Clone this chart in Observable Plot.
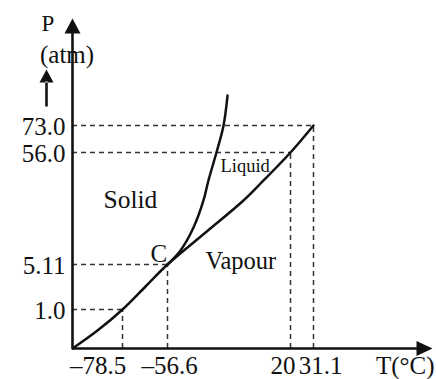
<!DOCTYPE html>
<html><head><meta charset="utf-8">
<script src="https://cdn.jsdelivr.net/npm/d3@7"></script>
<script src="https://cdn.jsdelivr.net/npm/@observablehq/plot@0.6"></script>
<style>body{margin:0;background:#fff} svg{display:block}</style>
</head><body><div id="chart"></div>
<script>
// Ticks
const tickT = [-78.5, -56.6, 20, 31.1];
const tickTLabels = ["–78.5", "–56.6", "20", "31.1"];
const tickP = [1.0, 5.11, 56.0, 73.0];
const tickPLabels = ["1.0", "5.11", "56.0", "73.0"];
// Key points (T, P): 1 atm sublimation, triple point C, 20°C, critical point
const keyT = [-78.5, -56.6, 20, 31.1];
const keyP = [1.0, 5.11, 56.0, 73.0];
// Sublimation + vaporization curve (solid/vapour then liquid/vapour)
const vapourT = [-103, -90.75, -78.5, -67.3, -56.6, -32.9, -9.3, 3.2, 20, 31.1];
const vapourP = [0, 0.46, 1.0, 3.1, 5.11, 19.65, 34.2, 43.3, 56.0, 73.0];
// Melting curve (solid/liquid)
const meltT = [-56.6, -48.5, -40.4, -34.2, -31.1, -26.1, -21.7, -19.2];
const meltP = [5.11, 11.47, 21.9, 34.2, 43.3, 56.0, 73.0, 86.2];
// Axis extent
const Tmin = -103, Tmax = 89, Pmax = 120;

const font = "'Liberation Serif', 'Times New Roman', serif";
const vapour = vapourT.map((t, i) => ({T: t, P: vapourP[i]}));
const melt = meltT.map((t, i) => ({T: t, P: meltP[i]}));
const keys = keyT.map((t, i) => ({T: t, P: keyP[i]}));

const upHead = {draw(c) { c.moveTo(0, 0); c.lineTo(-8, 15); c.lineTo(8, 15); c.closePath(); }};
const rightHead = {draw(c) { c.moveTo(0, 0); c.lineTo(-16, -7.5); c.lineTo(-16, 7.5); c.closePath(); }};
const smallArrow = {draw(c) {
  c.moveTo(0, 0); c.lineTo(-7, 13); c.lineTo(7, 13); c.closePath();
  c.moveTo(-1.3, 12); c.lineTo(1.3, 12); c.lineTo(1.3, 37); c.lineTo(-1.3, 37); c.closePath();
}};
const xLabelDx = [-24.5, 2, -7.5, 7];

const chart = Plot.plot({
  width: 436, height: 379,
  margin: 0,
  style: {fontFamily: font, background: "#fff", color: "#111"},
  x: {type: "linear", domain: [Tmin, -78.5, -56.6, 20, 31.1, Tmax], range: [72, 122, 167, 290, 313, 432], axis: null},
  y: {type: "linear", domain: [0, 1.0, 5.11, 56.0, 73.0, Pmax], range: [348, 309, 264, 152, 125, 18], axis: null},
  marks: [
    // dashed guides
    Plot.ruleY(keys, {y: "P", x1: Tmin, x2: "T", stroke: "#333", strokeWidth: 1.5, strokeDasharray: "5,4"}),
    Plot.ruleX(keys, {x: "T", y1: 0, y2: "P", stroke: "#333", strokeWidth: 1.5, strokeDasharray: "5,4"}),
    // curves
    Plot.line(vapour, {x: "T", y: "P", curve: "catmull-rom", stroke: "#111", strokeWidth: 2.5}),
    Plot.line(melt, {x: "T", y: "P", curve: "catmull-rom", stroke: "#111", strokeWidth: 2.5}),
    // axes
    Plot.ruleX([Tmin], {y1: 0, y2: Pmax - 5, stroke: "#111", strokeWidth: 2.6}),
    Plot.ruleY([0], {x1: Tmin, x2: Tmax - 3, stroke: "#111", strokeWidth: 2.6}),
    Plot.dot([0], {x: Tmin, y: Pmax, symbol: upHead, fill: "#111", stroke: "none"}),
    Plot.dot([0], {x: Tmax, y: 0, symbol: rightHead, fill: "#111", stroke: "none"}),
    // tick labels
    Plot.text(tickP, {x: Tmin, y: d => d, text: (d, i) => tickPLabels[i], textAnchor: "end", lineAnchor: "bottom", dx: -7, dy: 9, fontSize: 25, fill: "#111"}),
    ...tickT.map((t, i) => Plot.text([t], {x: d => d, y: 0, text: [tickTLabels[i]], textAnchor: "middle", lineAnchor: "bottom", dx: xLabelDx[i], dy: 25, fontSize: 25, fill: "#111"})),
    // axis titles
    Plot.text(["P"], {frameAnchor: "top-left", dx: 41, dy: 30, lineAnchor: "bottom", fontSize: 23, fill: "#111"}),
    Plot.text(["(atm)"], {frameAnchor: "top-left", dx: 39.5, dy: 62, lineAnchor: "bottom", fontSize: 25, fill: "#111"}),
    Plot.dot([0], {frameAnchor: "top-left", dx: 46, dy: 69, symbol: smallArrow, fill: "#111", stroke: "none"}),
    Plot.text(["T(°C)"], {frameAnchor: "top-left", dx: 434, dy: 373, textAnchor: "end", lineAnchor: "bottom", fontSize: 25, fill: "#111"}),
    // region labels
    Plot.text(["Solid"], {frameAnchor: "top-left", dx: 103, dy: 207, textAnchor: "start", lineAnchor: "bottom", fontSize: 25.5, fill: "#111"}),
    Plot.text(["Vapour"], {frameAnchor: "top-left", dx: 205, dy: 268, textAnchor: "start", lineAnchor: "bottom", fontSize: 24.5, fill: "#111"}),
    Plot.text(["Liquid"], {frameAnchor: "top-left", dx: 220, dy: 171, textAnchor: "start", lineAnchor: "bottom", fontSize: 18.5, fill: "#111"}),
    Plot.text(["C"], {frameAnchor: "top-left", dx: 150, dy: 261, textAnchor: "start", lineAnchor: "bottom", fontSize: 25, fill: "#111"})
  ]
});
document.getElementById("chart").appendChild(chart);
</script>
</body></html>
